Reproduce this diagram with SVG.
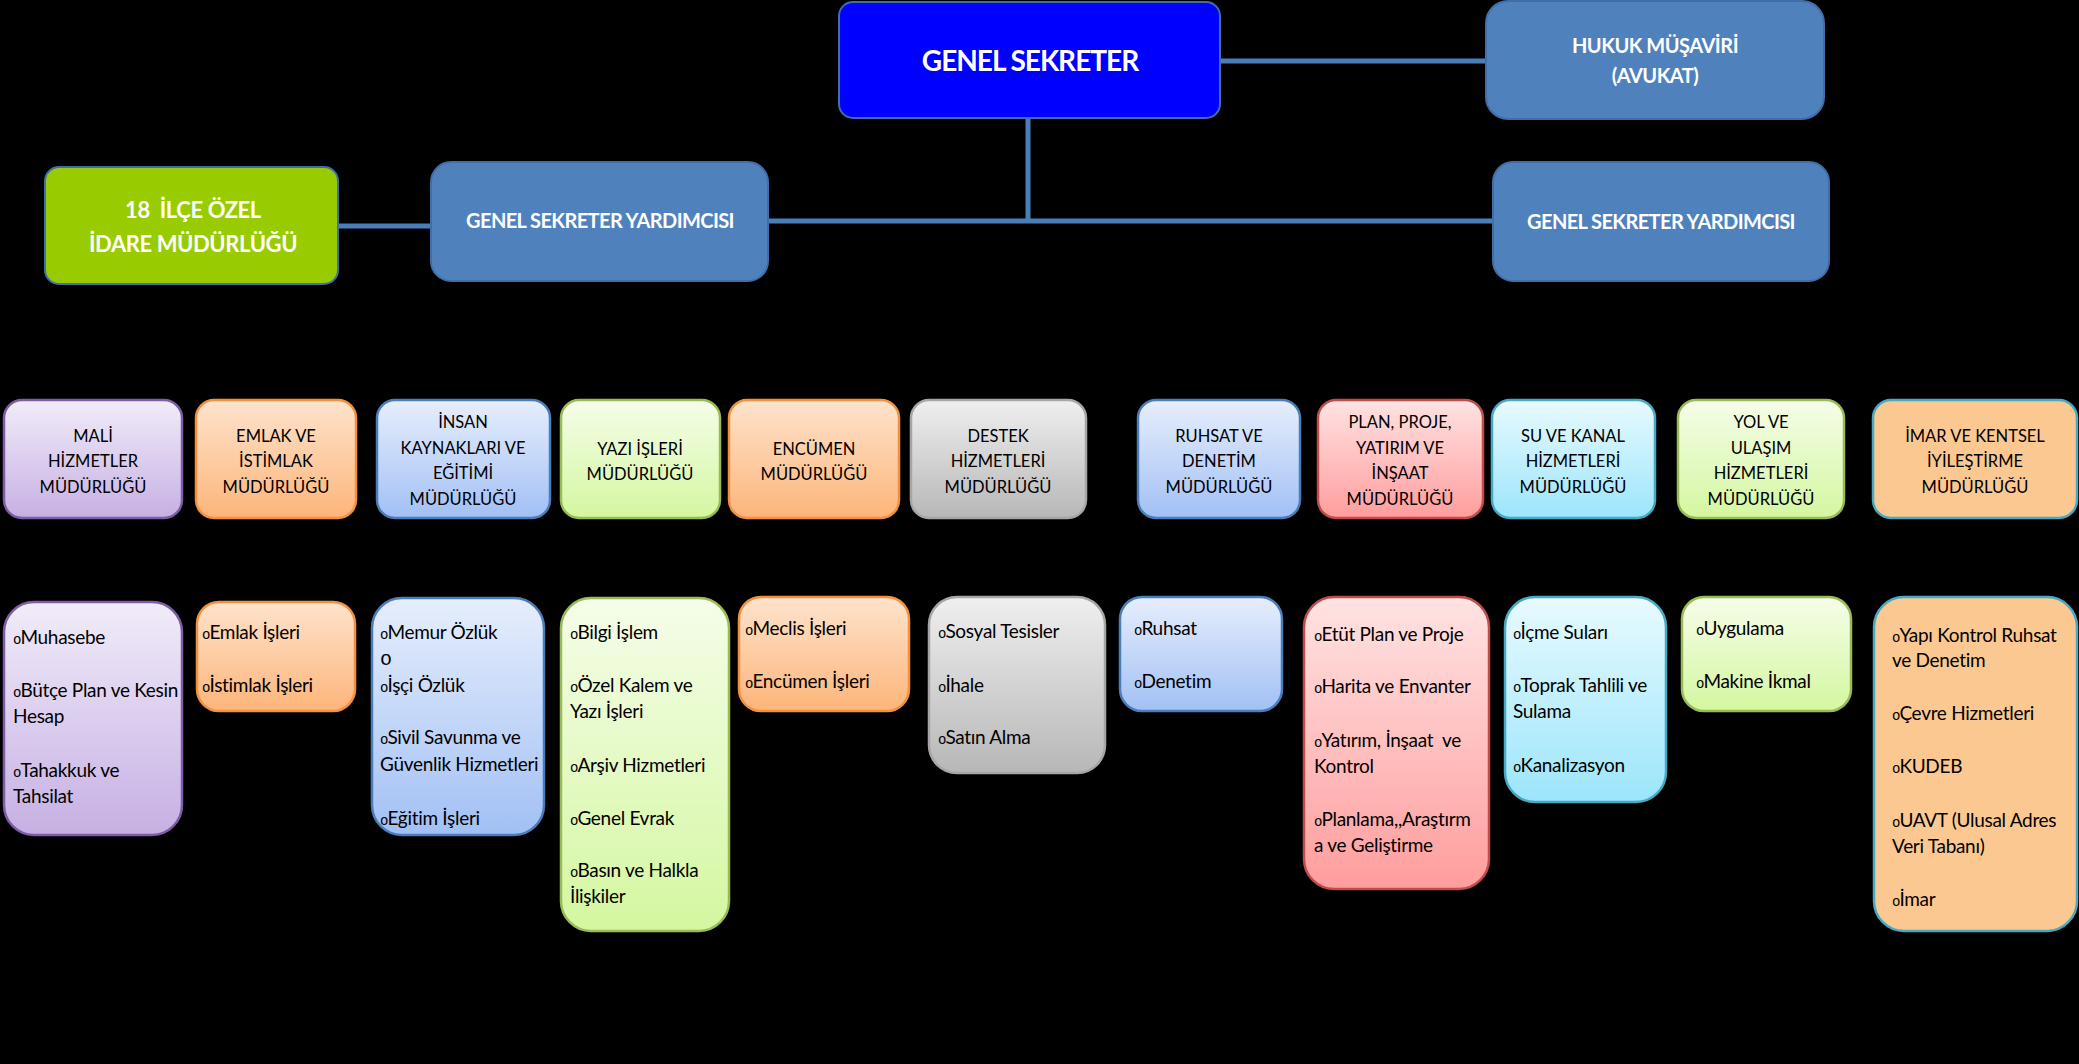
<svg xmlns="http://www.w3.org/2000/svg" width="2079" height="1064" viewBox="0 0 2079 1064">
<defs>
<linearGradient id="gPurple" x1="0" y1="0" x2="0" y2="1"><stop offset="0" stop-color="#f1ecf9"/><stop offset="1" stop-color="#c6b0e3"/></linearGradient>
<linearGradient id="gOrange" x1="0" y1="0" x2="0" y2="1"><stop offset="0" stop-color="#fee3cc"/><stop offset="1" stop-color="#fdb57a"/></linearGradient>
<linearGradient id="gBlue" x1="0" y1="0" x2="0" y2="1"><stop offset="0" stop-color="#e6eefc"/><stop offset="1" stop-color="#a2c0f5"/></linearGradient>
<linearGradient id="gGreen" x1="0" y1="0" x2="0" y2="1"><stop offset="0" stop-color="#f5fde9"/><stop offset="1" stop-color="#d4f7a0"/></linearGradient>
<linearGradient id="gGray" x1="0" y1="0" x2="0" y2="1"><stop offset="0" stop-color="#efefef"/><stop offset="1" stop-color="#b7b7b7"/></linearGradient>
<linearGradient id="gRed" x1="0" y1="0" x2="0" y2="1"><stop offset="0" stop-color="#ffe3e3"/><stop offset="1" stop-color="#ff9d9d"/></linearGradient>
<linearGradient id="gCyan" x1="0" y1="0" x2="0" y2="1"><stop offset="0" stop-color="#e8faff"/><stop offset="1" stop-color="#9ce5fb"/></linearGradient>
</defs>
<style>
.top{stroke:#3f6ea8;stroke-width:2}
.mid{fill:#4f81bd;stroke:#3f6ea8;stroke-width:2}
.purple{fill:url(#gPurple);stroke:#7d5ea5;stroke-width:2.5}
.orange{fill:url(#gOrange);stroke:#f3913f;stroke-width:2.5}
.blue{fill:url(#gBlue);stroke:#4a7ebb;stroke-width:2.5}
.green{fill:url(#gGreen);stroke:#98bb55;stroke-width:2.5}
.gray{fill:url(#gGray);stroke:#a6a6a6;stroke-width:2.5}
.red{fill:url(#gRed);stroke:#bf4d4a;stroke-width:2.5}
.cyan{fill:url(#gCyan);stroke:#47a9c4;stroke-width:2.5}
.imar{fill:#fcc891;stroke:#47a9c4;stroke-width:2.5}
.conn{stroke:#4a7ebb;stroke-width:5;fill:none}
.tw{font-family:Lato,"Liberation Sans",sans-serif;font-weight:bold;fill:#fff;text-anchor:middle}
.h{font-family:Lato,"Liberation Sans",sans-serif;font-size:16.5px;fill:#000;text-anchor:middle}
.b{font-family:Lato,"Liberation Sans",sans-serif;font-size:19px;letter-spacing:-0.3px;fill:#000}
.bu{font-family:"Liberation Mono",monospace;font-size:14px;letter-spacing:-1px}
.bu2{font-family:"Liberation Mono",monospace;font-size:20px}
</style>
<rect x="0" y="0" width="2079" height="1064" fill="#000"/>

<g id="connectors">
<line class="conn" x1="1220" y1="61" x2="1486" y2="61"/>
<line class="conn" x1="1028" y1="118" x2="1028" y2="221"/>
<line class="conn" x1="768" y1="221" x2="1493" y2="221"/>
<line class="conn" x1="338" y1="226" x2="431" y2="226"/>
</g>

<g id="genel-sekreter">
<rect class="top" x="839" y="2" width="381" height="116" rx="14" fill="#0000ff"/>
<text class="tw" x="1030" y="71" font-size="28" letter-spacing="-1">GENEL SEKRETER</text>
</g>
<g id="hukuk">
<rect class="mid" x="1486" y="1" width="338" height="118" rx="22"/>
<text class="tw" x="1655" y="53" font-size="20" letter-spacing="-0.5">HUKUK MÜŞAVİRİ</text>
<text class="tw" x="1655" y="83" font-size="20" letter-spacing="-0.5">(AVUKAT)</text>
</g>
<g id="gsy-left">
<rect class="mid" x="431" y="162" width="337" height="119" rx="20"/>
<text class="tw" x="600" y="228" font-size="20" letter-spacing="-0.6">GENEL SEKRETER YARDIMCISI</text>
</g>
<g id="gsy-right">
<rect class="mid" x="1493" y="162" width="336" height="119" rx="20"/>
<text class="tw" x="1661" y="229" font-size="20" letter-spacing="-0.6">GENEL SEKRETER YARDIMCISI</text>
</g>
<g id="ilce">
<rect class="top" x="45" y="167" width="293" height="117" rx="14" fill="#99cc00"/>
<text class="tw" x="193" y="218" font-size="22" letter-spacing="-0.4" xml:space="preserve">18  İLÇE ÖZEL</text>
<text class="tw" x="193" y="252" font-size="22" letter-spacing="-0.4">İDARE MÜDÜRLÜĞÜ</text>
</g>

<g id="mali">
<rect class="purple" x="4" y="400" width="178" height="118" rx="18"/>
<text class="h" x="93" y="442">MALİ</text>
<text class="h" x="93" y="467">HİZMETLER</text>
<text class="h" x="93" y="493">MÜDÜRLÜĞÜ</text>
</g>
<g id="emlak">
<rect class="orange" x="196" y="400" width="160" height="118" rx="18"/>
<text class="h" x="276" y="442">EMLAK VE</text>
<text class="h" x="276" y="467">İSTİMLAK</text>
<text class="h" x="276" y="493">MÜDÜRLÜĞÜ</text>
</g>
<g id="insan">
<rect class="blue" x="377" y="400" width="173" height="118" rx="18"/>
<text class="h" x="463" y="428">İNSAN</text>
<text class="h" x="463" y="454">KAYNAKLARI VE</text>
<text class="h" x="463" y="479">EĞİTİMİ</text>
<text class="h" x="463" y="505">MÜDÜRLÜĞÜ</text>
</g>
<g id="yazi">
<rect class="green" x="561" y="400" width="159" height="118" rx="18"/>
<text class="h" x="640" y="455">YAZI İŞLERİ</text>
<text class="h" x="640" y="480">MÜDÜRLÜĞÜ</text>
</g>
<g id="encumen">
<rect class="orange" x="729" y="400" width="170" height="118" rx="18"/>
<text class="h" x="814" y="455">ENCÜMEN</text>
<text class="h" x="814" y="480">MÜDÜRLÜĞÜ</text>
</g>
<g id="destek">
<rect class="gray" x="911" y="400" width="175" height="118" rx="18"/>
<text class="h" x="998" y="442">DESTEK</text>
<text class="h" x="998" y="467">HİZMETLERİ</text>
<text class="h" x="998" y="493">MÜDÜRLÜĞÜ</text>
</g>
<g id="ruhsat">
<rect class="blue" x="1138" y="400" width="162" height="118" rx="18"/>
<text class="h" x="1219" y="442">RUHSAT VE</text>
<text class="h" x="1219" y="467">DENETİM</text>
<text class="h" x="1219" y="493">MÜDÜRLÜĞÜ</text>
</g>
<g id="plan">
<rect class="red" x="1318" y="400" width="165" height="118" rx="18"/>
<text class="h" x="1400" y="428">PLAN, PROJE,</text>
<text class="h" x="1400" y="454">YATIRIM VE</text>
<text class="h" x="1400" y="479">İNŞAAT</text>
<text class="h" x="1400" y="505">MÜDÜRLÜĞÜ</text>
</g>
<g id="su">
<rect class="cyan" x="1492" y="400" width="163" height="118" rx="18"/>
<text class="h" x="1573" y="442">SU VE KANAL</text>
<text class="h" x="1573" y="467">HİZMETLERİ</text>
<text class="h" x="1573" y="493">MÜDÜRLÜĞÜ</text>
</g>
<g id="yol">
<rect class="green" x="1678" y="400" width="166" height="118" rx="18"/>
<text class="h" x="1761" y="428">YOL VE</text>
<text class="h" x="1761" y="454">ULAŞIM</text>
<text class="h" x="1761" y="479">HİZMETLERİ</text>
<text class="h" x="1761" y="505">MÜDÜRLÜĞÜ</text>
</g>
<g id="imar">
<rect class="imar" x="1873" y="400" width="204" height="118" rx="18"/>
<text class="h" x="1975" y="442">İMAR VE KENTSEL</text>
<text class="h" x="1975" y="467">İYİLEŞTİRME</text>
<text class="h" x="1975" y="493">MÜDÜRLÜĞÜ</text>
</g>

<g id="mali-list">
<rect class="purple" x="4" y="602" width="178" height="233" rx="30"/>
<text class="b" x="13" y="644"><tspan class="bu">o</tspan>Muhasebe</text>
<text class="b" x="13" y="697"><tspan class="bu">o</tspan>Bütçe Plan ve Kesin</text>
<text class="b" x="13" y="723">Hesap</text>
<text class="b" x="13" y="777"><tspan class="bu">o</tspan>Tahakkuk ve</text>
<text class="b" x="13" y="803">Tahsilat</text>
</g>
<g id="emlak-list">
<rect class="orange" x="197" y="602" width="158" height="109" rx="22"/>
<text class="b" x="202" y="639"><tspan class="bu">o</tspan>Emlak İşleri</text>
<text class="b" x="202" y="692"><tspan class="bu">o</tspan>İstimlak İşleri</text>
</g>
<g id="insan-list">
<rect class="blue" x="372" y="598" width="172" height="237" rx="30"/>
<text class="b" x="380" y="639"><tspan class="bu">o</tspan>Memur Özlük</text>
<text class="b" x="380" y="665"><tspan class="bu2">o</tspan></text>
<text class="b" x="380" y="692"><tspan class="bu">o</tspan>İşçi Özlük</text>
<text class="b" x="380" y="744"><tspan class="bu">o</tspan>Sivil Savunma ve</text>
<text class="b" x="380" y="771">Güvenlik Hizmetleri</text>
<text class="b" x="380" y="825"><tspan class="bu">o</tspan>Eğitim İşleri</text>
</g>
<g id="yazi-list">
<rect class="green" x="561" y="598" width="168" height="333" rx="30"/>
<text class="b" x="570" y="639"><tspan class="bu">o</tspan>Bilgi İşlem</text>
<text class="b" x="570" y="692"><tspan class="bu">o</tspan>Özel Kalem ve</text>
<text class="b" x="570" y="718">Yazı İşleri</text>
<text class="b" x="570" y="772"><tspan class="bu">o</tspan>Arşiv Hizmetleri</text>
<text class="b" x="570" y="825"><tspan class="bu">o</tspan>Genel Evrak</text>
<text class="b" x="570" y="877"><tspan class="bu">o</tspan>Basın ve Halkla</text>
<text class="b" x="570" y="903">İlişkiler</text>
</g>
<g id="encumen-list">
<rect class="orange" x="739" y="597" width="170" height="114" rx="22"/>
<text class="b" x="745" y="635"><tspan class="bu">o</tspan>Meclis İşleri</text>
<text class="b" x="745" y="688"><tspan class="bu">o</tspan>Encümen İşleri</text>
</g>
<g id="destek-list">
<rect class="gray" x="929" y="597" width="176" height="176" rx="28"/>
<text class="b" x="938" y="638"><tspan class="bu">o</tspan>Sosyal Tesisler</text>
<text class="b" x="938" y="692"><tspan class="bu">o</tspan>İhale</text>
<text class="b" x="938" y="744"><tspan class="bu">o</tspan>Satın Alma</text>
</g>
<g id="ruhsat-list">
<rect class="blue" x="1120" y="597" width="162" height="114" rx="22"/>
<text class="b" x="1134" y="635"><tspan class="bu">o</tspan>Ruhsat</text>
<text class="b" x="1134" y="688"><tspan class="bu">o</tspan>Denetim</text>
</g>
<g id="plan-list">
<rect class="red" x="1304" y="597" width="185" height="292" rx="30"/>
<text class="b" x="1314" y="641"><tspan class="bu">o</tspan>Etüt Plan ve Proje</text>
<text class="b" x="1314" y="693"><tspan class="bu">o</tspan>Harita ve Envanter</text>
<text class="b" x="1314" y="747" xml:space="preserve"><tspan class="bu">o</tspan>Yatırım, İnşaat  ve</text>
<text class="b" x="1314" y="773">Kontrol</text>
<text class="b" x="1314" y="826"><tspan class="bu">o</tspan>Planlama,,Araştırm</text>
<text class="b" x="1314" y="852">a ve Geliştirme</text>
</g>
<g id="su-list">
<rect class="cyan" x="1505" y="597" width="161" height="205" rx="30"/>
<text class="b" x="1513" y="639"><tspan class="bu">o</tspan>İçme Suları</text>
<text class="b" x="1513" y="692"><tspan class="bu">o</tspan>Toprak Tahlili ve</text>
<text class="b" x="1513" y="718">Sulama</text>
<text class="b" x="1513" y="772"><tspan class="bu">o</tspan>Kanalizasyon</text>
</g>
<g id="yol-list">
<rect class="green" x="1682" y="597" width="169" height="114" rx="22"/>
<text class="b" x="1696" y="635"><tspan class="bu">o</tspan>Uygulama</text>
<text class="b" x="1696" y="688"><tspan class="bu">o</tspan>Makine İkmal</text>
</g>
<g id="imar-list">
<rect class="imar" x="1874" y="597" width="203" height="334" rx="30"/>
<text class="b" x="1892" y="642"><tspan class="bu">o</tspan>Yapı Kontrol Ruhsat</text>
<text class="b" x="1892" y="667">ve Denetim</text>
<text class="b" x="1892" y="720"><tspan class="bu">o</tspan>Çevre Hizmetleri</text>
<text class="b" x="1892" y="773"><tspan class="bu">o</tspan>KUDEB</text>
<text class="b" x="1892" y="827"><tspan class="bu">o</tspan>UAVT (Ulusal Adres</text>
<text class="b" x="1892" y="853">Veri Tabanı)</text>
<text class="b" x="1892" y="906"><tspan class="bu">o</tspan>İmar</text>
</g>
</svg>
